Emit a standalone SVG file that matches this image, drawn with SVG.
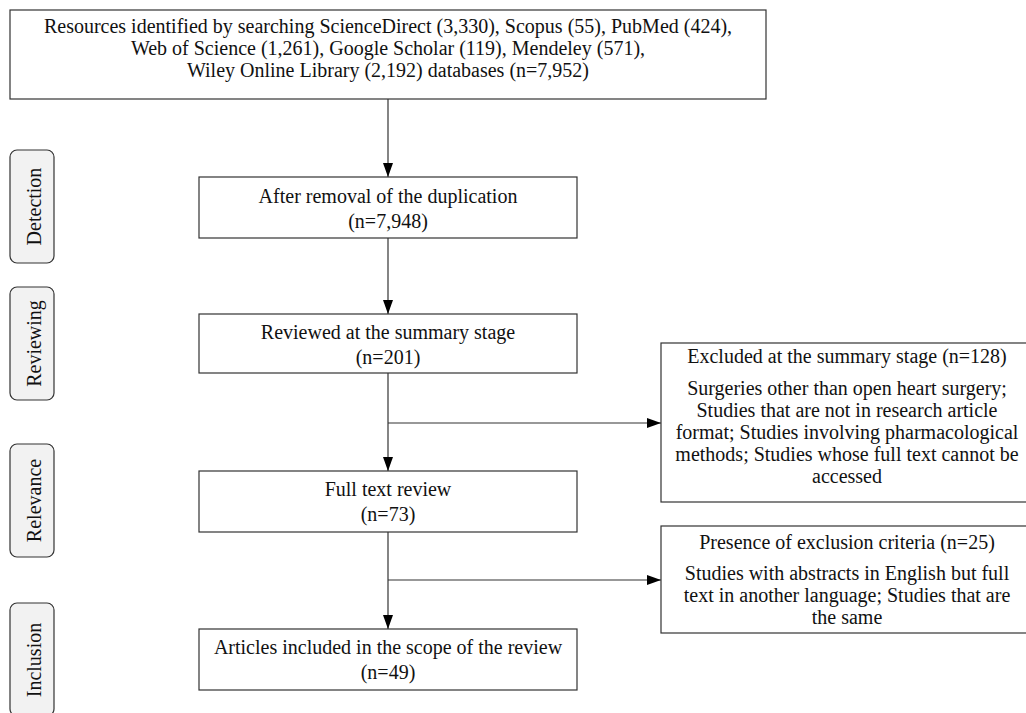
<svg xmlns="http://www.w3.org/2000/svg" width="1026" height="713" viewBox="0 0 1026 713">
<defs>
<style>
text{font-family:"Liberation Serif","Times New Roman",serif;font-size:20px;fill:#111;text-anchor:middle}
.box{fill:#fff;stroke:#333;stroke-width:1.2}
.side{fill:#f2f2f2;stroke:#333;stroke-width:1.2}
.conn{fill:none;stroke:#333;stroke-width:1.2}
</style>
<marker id="ahd" viewBox="0 0 14 10" refX="14" refY="5" markerWidth="14" markerHeight="10" markerUnits="userSpaceOnUse" orient="auto">
<path d="M0,0 L14,5 L0,10 z" fill="#000"/>
</marker>
</defs>
<rect width="1026" height="713" fill="#fff"/>

<g id="side-detection"><rect class="side" x="10" y="150" width="44" height="113" rx="7"/><text transform="translate(41,206.5) rotate(-90)">Detection</text></g>
<g id="side-reviewing"><rect class="side" x="10" y="287" width="44" height="113" rx="7"/><text transform="translate(41,343.5) rotate(-90)">Reviewing</text></g>
<g id="side-relevance"><rect class="side" x="10" y="444" width="44" height="113" rx="7"/><text transform="translate(41,500.5) rotate(-90)">Relevance</text></g>
<g id="side-inclusion"><rect class="side" x="10" y="603" width="44" height="113" rx="7"/><text transform="translate(41,660) rotate(-90)">Inclusion</text></g>

<g id="connectors">
<line class="conn" x1="388" y1="99" x2="388" y2="177" marker-end="url(#ahd)"/>
<line class="conn" x1="388" y1="238" x2="388" y2="314" marker-end="url(#ahd)"/>
<line class="conn" x1="388" y1="373" x2="388" y2="471" marker-end="url(#ahd)"/>
<line class="conn" x1="388" y1="423" x2="661" y2="423" marker-end="url(#ahd)"/>
<line class="conn" x1="388" y1="532" x2="388" y2="629" marker-end="url(#ahd)"/>
<line class="conn" x1="388" y1="580" x2="661" y2="580" marker-end="url(#ahd)"/>
</g>

<g id="node-identified">
<rect class="box" x="10" y="10" width="756" height="89"/>
<text x="388" y="33">Resources identified by searching ScienceDirect (3,330), Scopus (55), PubMed (424),</text>
<text x="388" y="55">Web of Science (1,261), Google Scholar (119), Mendeley (571),</text>
<text x="388" y="77">Wiley Online Library (2,192) databases (n=7,952)</text>
</g>
<g id="node-dedup">
<rect class="box" x="199" y="177" width="378" height="61"/>
<text x="388" y="203">After removal of the duplication</text>
<text x="388" y="228">(n=7,948)</text>
</g>
<g id="node-summary">
<rect class="box" x="199" y="314" width="378" height="59"/>
<text x="388" y="339">Reviewed at the summary stage</text>
<text x="388" y="364">(n=201)</text>
</g>
<g id="node-fulltext">
<rect class="box" x="199" y="471" width="378" height="61"/>
<text x="388" y="496">Full text review</text>
<text x="388" y="521">(n=73)</text>
</g>
<g id="node-included">
<rect class="box" x="199" y="629" width="378" height="61"/>
<text x="388" y="654">Articles included in the scope of the review</text>
<text x="388" y="679">(n=49)</text>
</g>
<g id="node-excluded-summary">
<rect class="box" x="661" y="343" width="374" height="159"/>
<text x="847" y="363">Excluded at the summary stage (n=128)</text>
<text x="847" y="395">Surgeries other than open heart surgery;</text>
<text x="847" y="417">Studies that are not in research article</text>
<text x="847" y="439">format; Studies involving pharmacological</text>
<text x="847" y="461">methods; Studies whose full text cannot be</text>
<text x="847" y="483">accessed</text>
</g>
<g id="node-excluded-criteria">
<rect class="box" x="661" y="526" width="374" height="107"/>
<text x="847" y="549">Presence of exclusion criteria (n=25)</text>
<text x="847" y="580">Studies with abstracts in English but full</text>
<text x="847" y="602">text in another language; Studies that are</text>
<text x="847" y="624">the same</text>
</g>
</svg>
